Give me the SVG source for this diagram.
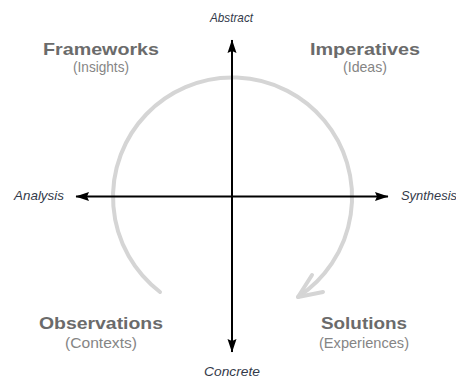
<svg xmlns="http://www.w3.org/2000/svg" width="456" height="378" viewBox="0 0 456 378">
  <style>
    .axis { stroke: #000; stroke-width: 2; fill: none; }
    .cycle { stroke: #d5d5d5; stroke-width: 4; fill: none; stroke-linecap: round; stroke-linejoin: round; }
    .pole { font-family: "Liberation Sans", Arial, sans-serif; font-style: italic; font-size: 13px; fill: #333a4a; }
    .head { font-family: "Liberation Sans", Arial, sans-serif; font-weight: bold; font-size: 17px; fill: #6b6b6b; text-anchor: middle; }
    .sub { font-family: "Liberation Sans", Arial, sans-serif; font-size: 14.5px; fill: #858585; text-anchor: middle; }
  </style>
  <defs>
    <marker id="arr" markerUnits="userSpaceOnUse" markerWidth="14" markerHeight="10" refX="13" refY="5" orient="auto-start-reverse">
      <path d="M0,0.5 L13.5,5 L0,9.5 L2,5 Z" fill="#000"/>
    </marker>
  </defs>
  <rect width="456" height="378" fill="#fff"/>
  <g id="connectors">
    <path id="cycle-arc" class="cycle" d="M160,292 A119.5,119.5 0 1 1 298,297"/>
    <polyline id="cycle-head" class="cycle" points="312,275 298,297 323,292"/>
    <line id="axis-vertical" class="axis" x1="232" y1="40" x2="232" y2="352" marker-start="url(#arr)" marker-end="url(#arr)"/>
    <line id="axis-horizontal" class="axis" x1="76" y1="196.5" x2="388" y2="196.5" marker-start="url(#arr)" marker-end="url(#arr)"/>
  </g>
  <g id="pole-abstract"><text class="pole" x="210" y="22" textLength="43" lengthAdjust="spacingAndGlyphs">Abstract</text></g>
  <g id="pole-concrete"><text class="pole" x="204" y="376" textLength="56" lengthAdjust="spacingAndGlyphs">Concrete</text></g>
  <g id="pole-analysis"><text class="pole" x="14" y="200" textLength="50" lengthAdjust="spacingAndGlyphs">Analysis</text></g>
  <g id="pole-synthesis"><text class="pole" x="401" y="200" textLength="56" lengthAdjust="spacingAndGlyphs">Synthesis</text></g>
  <g id="node-frameworks">
    <text class="head" x="101" y="55" textLength="116" lengthAdjust="spacingAndGlyphs">Frameworks</text>
    <text class="sub" x="101" y="72" textLength="56" lengthAdjust="spacingAndGlyphs">(Insights)</text>
  </g>
  <g id="node-imperatives">
    <text class="head" x="365" y="55" textLength="110" lengthAdjust="spacingAndGlyphs">Imperatives</text>
    <text class="sub" x="365" y="72" textLength="44" lengthAdjust="spacingAndGlyphs">(Ideas)</text>
  </g>
  <g id="node-observations">
    <text class="head" x="101" y="329" textLength="124" lengthAdjust="spacingAndGlyphs">Observations</text>
    <text class="sub" x="101" y="348" textLength="72" lengthAdjust="spacingAndGlyphs">(Contexts)</text>
  </g>
  <g id="node-solutions">
    <text class="head" x="364" y="329" textLength="86" lengthAdjust="spacingAndGlyphs">Solutions</text>
    <text class="sub" x="364" y="348" textLength="90" lengthAdjust="spacingAndGlyphs">(Experiences)</text>
  </g>
</svg>
